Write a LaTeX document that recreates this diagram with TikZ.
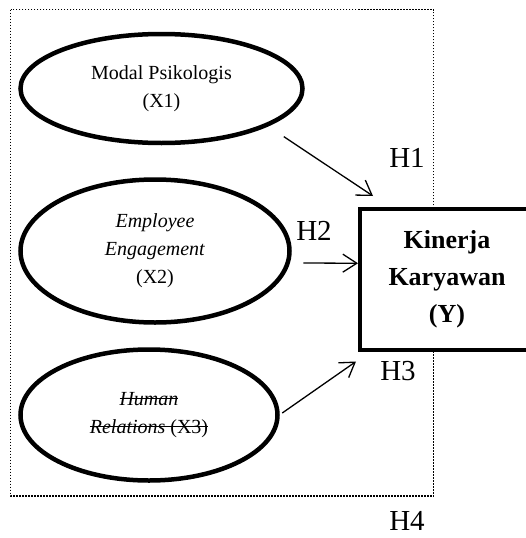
\documentclass[tikz,border=0pt]{standalone}
\usepackage{fontspec}
\setmainfont{Liberation Serif}
\usetikzlibrary{arrows.meta, shapes.geometric}
\newsavebox{\strkbox}
\newcommand{\strk}[1]{\sbox{\strkbox}{#1}\rlap{\rule[0.3em]{\wd\strkbox}{0.06em}}\usebox{\strkbox}}
\tikzset{
  varell/.style={draw, ellipse, line width=4.5pt, inner sep=0pt, align=center,
                 font=\fontsize{20}{28}\selectfont},
  depbox/.style={draw, rectangle, fill=white, line width=4pt, inner sep=0pt, align=center,
                 minimum width=174pt, minimum height=140.5pt,
                 font=\fontsize{26}{37}\selectfont\bfseries},
  hyplbl/.style={anchor=base, inner sep=0pt, text depth=0pt, font=\fontsize{29}{30}\selectfont},
  arr/.style={-{Straight Barb[length=14pt,width=18pt]}, line width=1.3pt},
  outerframe/.style={draw, line width=1.5pt, dash pattern=on 1.5pt off 1.5pt},
}

\begin{document}
\begin{tikzpicture}[x=1pt, y=-1pt]
\useasboundingbox (0,0) rectangle (526,538);
\clip (0,0) rectangle (526,538);

% Dotted frame round the independent variables
\draw[outerframe] (10.5,9.5) rectangle (433.5,496);

% Independent variables
\node[varell, minimum width=282pt, minimum height=109pt] (x1) at (161.5,88.5)
  {Modal Psikologis\\(X1)};
\node[varell, minimum width=269pt, minimum height=143pt] (x2) at (155,251)
  {\textit{Employee}\\\textit{Engagement}\\(X2)};
\node[varell, minimum width=257pt, minimum height=131pt] (x3) at (149,415)
  {\strk{\textit{Human}}\\\strk{\textit{Relations} (X3)}};

% Dependent variable
\node[depbox] (y) at (447,279.25) {Kinerja\\Karyawan\\(Y)};

% Paths
\draw[arr] ([xshift=21pt,yshift=-8pt]x1.south east) -- ([xshift=15pt,yshift=11pt]y.north west);
\draw[arr] ([xshift=11.5pt,yshift=-12pt]x2.east) -- ([yshift=16pt]y.west);
\draw[arr] ([xshift=2.5pt,yshift=2pt]x3.east) -- ([xshift=-2pt,yshift=-10pt]y.south west);

% Hypothesis labels
\node[hyplbl] (h1) at (407,167) {H1};
\node[hyplbl] (h2) at (314,240) {H2};
\node[hyplbl] (h3) at (398,380) {H3};
\node[hyplbl] (h4) at (407,530) {H4};

\end{tikzpicture}
\end{document}
